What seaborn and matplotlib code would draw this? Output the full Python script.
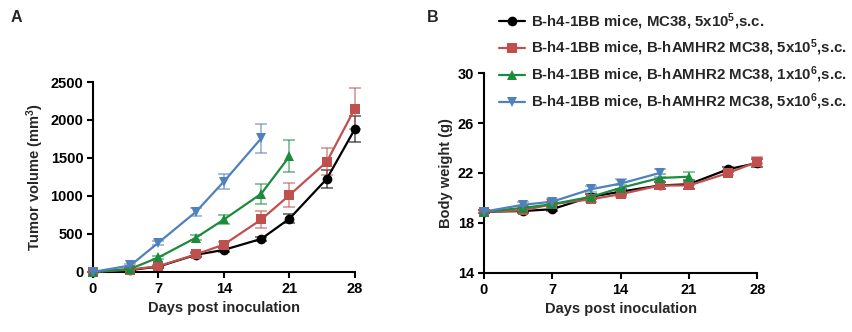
import numpy as np
import pandas as pd
import matplotlib
matplotlib.use("Agg")
import matplotlib.pyplot as plt
import seaborn as sns

sns.set_theme(style="ticks")
plt.rcParams["font.family"] = ["Liberation Sans", "DejaVu Sans"]
plt.rcParams["font.weight"] = "bold"
plt.rcParams["axes.labelweight"] = "bold"
plt.rcParams["mathtext.fontset"] = "custom"
plt.rcParams["mathtext.rm"] = "Liberation Sans:bold"
plt.rcParams["mathtext.default"] = "rm"

days = [0, 4, 7, 11, 14, 18, 21, 25, 28]

groups = [
    r"B-h4-1BB mice, MC38, 5x10$^{5}$,s.c.",
    r"B-h4-1BB mice, B-hAMHR2 MC38, 5x10$^{5}$,s.c.",
    r"B-h4-1BB mice, B-hAMHR2 MC38, 1x10$^{6}$,s.c.",
    r"B-h4-1BB mice, B-hAMHR2 MC38, 5x10$^{6}$,s.c.",
]
colors = ["#000000", "#c0504d", "#1a8c3c", "#4f81bd"]
markers = ["o", "s", "^", "v"]

# tumor volume (mm3), mean and SEM per group
vol_black = [0, 25, 70, 225, 290, 435, 700, 1225, 1880]
vol_black_err = [0, 8, 12, 25, 25, 30, 60, 120, 170]
vol_red = [0, 30, 75, 230, 360, 690, 1010, 1450, 2150]
vol_red_err = [0, 8, 15, 30, 40, 110, 160, 180, 270]
vol_green = [0, 40, 190, 450, 690, 1030, 1520]
vol_green_err = [0, 10, 20, 30, 60, 130, 210]
vol_blue = [0, 85, 385, 790, 1190, 1760]
vol_blue_err = [0, 15, 25, 50, 100, 190]

# body weight (g), mean and SEM per group
bw_black = [18.9, 18.95, 19.1, 20.1, 20.5, 21.0, 21.1, 22.3, 22.8]
bw_black_err = [0.1, 0.15, 0.15, 0.2, 0.25, 0.3, 0.35, 0.2, 0.3]
bw_red = [18.9, 19.0, 19.5, 19.9, 20.3, 21.0, 21.0, 22.0, 22.9]
bw_red_err = [0.1, 0.15, 0.15, 0.2, 0.2, 0.3, 0.3, 0.2, 0.4]
bw_green = [18.9, 19.2, 19.5, 20.1, 20.8, 21.6, 21.7]
bw_green_err = [0.1, 0.15, 0.15, 0.2, 0.25, 0.3, 0.4]
bw_blue = [18.9, 19.45, 19.7, 20.7, 21.15, 22.0]
bw_blue_err = [0.1, 0.2, 0.2, 0.25, 0.4, 0.3]

vol = [vol_black, vol_red, vol_green, vol_blue]
vol_err = [vol_black_err, vol_red_err, vol_green_err, vol_blue_err]
bw = [bw_black, bw_red, bw_green, bw_blue]
bw_err = [bw_black_err, bw_red_err, bw_green_err, bw_blue_err]


def long_frame(values, errors):
    rows = []
    for g, v, e in zip(groups, values, errors):
        for d, m, s in zip(days, v, e):
            rows.append({"day": d, "value": m, "sem": s, "group": g})
    return pd.DataFrame(rows)


fig = plt.figure(figsize=(8.53, 3.32), dpi=100)
ax1 = fig.add_axes([0.109, 0.181, 0.307, 0.572])
ax2 = fig.add_axes([0.567, 0.178, 0.321, 0.602])

palette = dict(zip(groups, colors))
marker_map = dict(zip(groups, markers))

FS = 10.5


def draw(ax, df):
    for g in groups:
        sub = df[df.group == g]
        ax.errorbar(sub.day, sub.value, yerr=sub["sem"], fmt="none",
                    ecolor=palette[g], alpha=0.6, elinewidth=1.2,
                    capsize=4.5, capthick=1.2, clip_on=False, zorder=2)
    sns.lineplot(data=df, x="day", y="value", hue="group", style="group",
                 palette=palette, markers=marker_map, dashes=False,
                 markersize=7, markeredgewidth=0, linewidth=1.6,
                 ax=ax, legend=True, clip_on=False, zorder=3)


df1 = long_frame(vol, vol_err)
df2 = long_frame(bw, bw_err)
draw(ax1, df1)
draw(ax2, df2)

ax1.get_legend().remove()
handles, labels = ax2.get_legend_handles_labels()
ax2.get_legend().remove()
fig.legend(handles, labels, loc="upper left", bbox_to_anchor=(0.578, 0.985),
           frameon=False, handlelength=1.7, handletextpad=0.4,
           labelspacing=0.42, borderaxespad=0,
           prop={"weight": "bold", "size": 10.8})

for ax in (ax1, ax2):
    ax.set_xlim(0, 28)
    ax.set_xticks([0, 7, 14, 21, 28])
    ax.set_xlabel("Days post inoculation", fontsize=FS, fontweight="bold",
                  labelpad=4)
    for s in ("top", "right"):
        ax.spines[s].set_visible(False)
    for s in ("left", "bottom"):
        ax.spines[s].set_linewidth(1.5)
        ax.spines[s].set_color("black")
    ax.tick_params(axis="both", direction="out", length=4, width=1.5,
                   labelsize=FS, pad=3, colors="black")
    for lab in ax.get_xticklabels() + ax.get_yticklabels():
        lab.set_fontweight("bold")
    ax.set_facecolor("white")

ax1.set_ylim(0, 2500)
ax1.set_yticks([0, 500, 1000, 1500, 2000, 2500])
ax1.set_ylabel(r"Tumor volume (mm$^{3}$)", fontsize=FS, fontweight="bold",
               labelpad=3)
ax2.set_ylim(14, 30)
ax2.set_yticks([14, 18, 22, 26, 30])
ax2.set_ylabel("Body weight (g)", fontsize=FS, fontweight="bold", labelpad=3)

fig.text(0.012, 0.935, "A", fontsize=11.5, fontweight="bold")
fig.text(0.500, 0.935, "B", fontsize=11.5, fontweight="bold")

fig.savefig("out.png", dpi=100, facecolor="white")
